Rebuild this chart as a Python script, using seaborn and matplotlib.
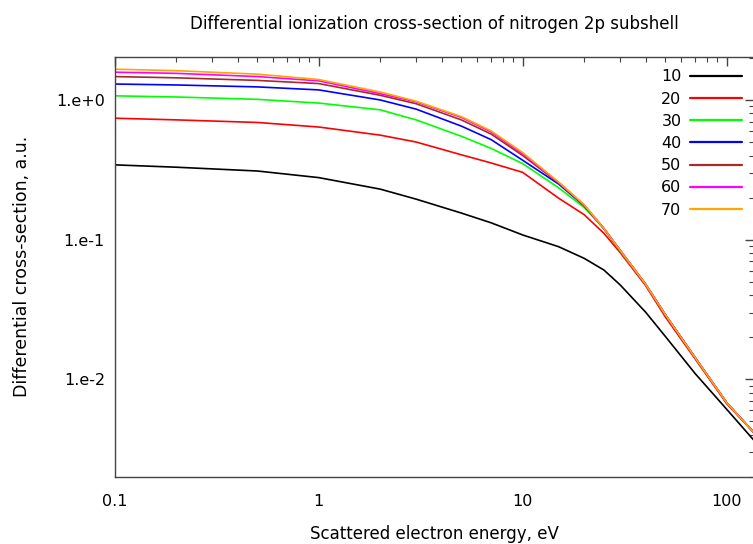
import numpy as np
import pandas as pd
import matplotlib
matplotlib.use("Agg")
import matplotlib.pyplot as plt
import seaborn as sns
from matplotlib.ticker import FixedLocator, FixedFormatter, LogLocator, NullFormatter

# ---- data ----
energy = [0.1, 0.2, 0.5, 1, 2, 3, 5, 7, 10, 15, 20, 25, 30, 40, 50, 70, 100, 135]

dcs_10 = [0.343, 0.33, 0.31, 0.278, 0.23, 0.195, 0.155, 0.132, 0.108, 0.089, 0.0735,
          0.0606, 0.0475, 0.0303, 0.0203, 0.011, 0.0061, 0.0037]
dcs_20 = [0.74, 0.72, 0.69, 0.64, 0.56, 0.50, 0.405, 0.354, 0.303, 0.198, 0.151,
          0.111, 0.081, 0.047, 0.028, 0.014, 0.0067, 0.0042]
dcs_30 = [1.07, 1.05, 1.01, 0.95, 0.85, 0.72, 0.55, 0.45, 0.35, 0.235, 0.17,
          0.12, 0.083, 0.048, 0.029, 0.0143, 0.0068, 0.0042]
dcs_40 = [1.30, 1.28, 1.24, 1.18, 1.00, 0.86, 0.65, 0.52, 0.37, 0.25, 0.175,
          0.12, 0.084, 0.048, 0.029, 0.0143, 0.0068, 0.0042]
dcs_50 = [1.47, 1.44, 1.38, 1.31, 1.08, 0.94, 0.72, 0.57, 0.40, 0.255, 0.176,
          0.12, 0.084, 0.048, 0.029, 0.0143, 0.0068, 0.0042]
dcs_60 = [1.58, 1.55, 1.47, 1.37, 1.11, 0.97, 0.75, 0.59, 0.41, 0.257, 0.177,
          0.12, 0.084, 0.048, 0.029, 0.0143, 0.0068, 0.0042]
dcs_70 = [1.66, 1.62, 1.53, 1.40, 1.14, 0.98, 0.76, 0.60, 0.42, 0.258, 0.178,
          0.12, 0.084, 0.048, 0.029, 0.0143, 0.0068, 0.0042]

series_labels = ["10", "20", "30", "40", "50", "60", "70"]
series_values = [dcs_10, dcs_20, dcs_30, dcs_40, dcs_50, dcs_60, dcs_70]
series_colors = ["#000000", "#ff0000", "#00ff00", "#0000ff", "#a52a2a", "#ff00ff", "#ffa500"]

xtick_values = [0.1, 1, 10, 100]
xtick_labels = ["0.1", "1", "10", "100"]
ytick_values = [0.01, 0.1, 1]
ytick_labels = ["1.e-2", "1.e-1", "1.e+0"]

title = "Differential ionization cross-section of nitrogen 2p subshell"
xlabel = "Scattered electron energy, eV"
ylabel = "Differential cross-section, a.u."

# ---- long-form table ----
rows = []
for lab, vals in zip(series_labels, series_values):
    for e, v in zip(energy, vals):
        rows.append({"energy": e, "dcs": v, "curve": lab})
df = pd.DataFrame(rows)

sns.set_style("white")
plt.rcParams["font.family"] = ["DejaVu Sans"]
plt.rcParams["text.color"] = "black"
plt.rcParams["axes.labelcolor"] = "black"
plt.rcParams["xtick.labelcolor"] = "black"
plt.rcParams["ytick.labelcolor"] = "black"

fig = plt.figure(figsize=(7.53, 5.44), dpi=100)
ax = fig.add_axes([0.1523, 0.1232, 0.8490, 0.7726])

sns.lineplot(data=df, x="energy", y="dcs", hue="curve", hue_order=series_labels,
             palette=series_colors, linewidth=1.2, ax=ax, legend=True)

ax.set_xscale("log")
ax.set_yscale("log")
ax.set_xlim(0.1, 136)
ax.set_ylim(0.002, 2.04)

ax.xaxis.set_major_locator(FixedLocator(xtick_values))
ax.xaxis.set_major_formatter(FixedFormatter(xtick_labels))
ax.yaxis.set_major_locator(FixedLocator(ytick_values))
ax.yaxis.set_major_formatter(FixedFormatter(ytick_labels))
ax.xaxis.set_minor_locator(LogLocator(base=10, subs=np.arange(2, 10), numticks=20))
ax.yaxis.set_minor_locator(LogLocator(base=10, subs=np.arange(2, 10), numticks=20))
ax.xaxis.set_minor_formatter(NullFormatter())
ax.yaxis.set_minor_formatter(NullFormatter())

ax.tick_params(which="both", direction="in", top=True, right=True, color="#444444")
ax.tick_params(which="major", length=6.5, width=1.0, labelsize=11.5)
ax.tick_params(which="minor", length=3.5, width=0.8)
ax.tick_params(axis="x", which="major", pad=12)
ax.tick_params(axis="y", which="major", pad=7)

for s in ax.spines.values():
    s.set_color("#444444")
    s.set_linewidth(1.0)

ax.set_title(title, fontsize=12, pad=20)
ax.set_xlabel(xlabel, fontsize=12, labelpad=12)
ax.set_ylabel(ylabel, fontsize=12.5, labelpad=18)

leg = ax.legend(loc="upper right", bbox_to_anchor=(1.004, 1.004), frameon=False,
                markerfirst=False, fontsize=11.5, handlelength=3.25,
                handletextpad=0.55, labelspacing=0.45, title=None)
for line in leg.get_lines():
    line.set_linewidth(1.6)

fig.savefig("out.png", dpi=100)
